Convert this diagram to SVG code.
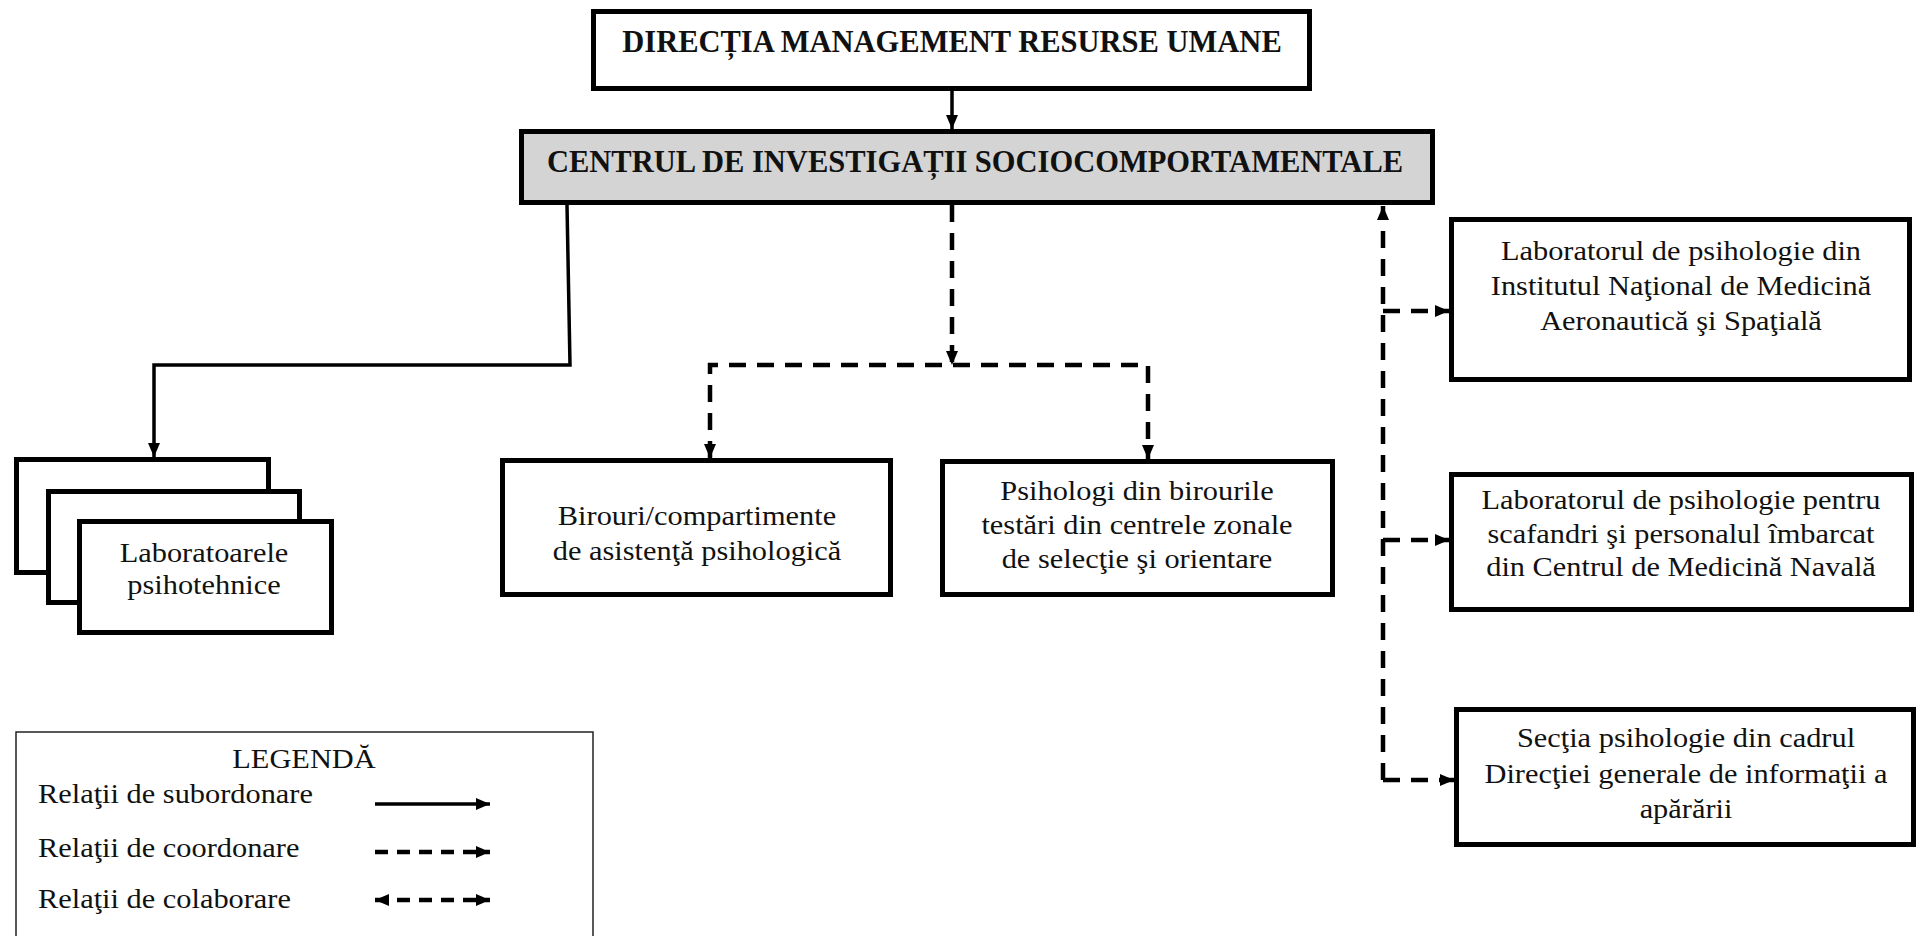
<svg xmlns="http://www.w3.org/2000/svg" width="1919" height="936" viewBox="0 0 1919 936">
<style>
.box{fill:#fff;stroke:#000;stroke-width:5}
.gray{fill:#d4d4d4;stroke:#000;stroke-width:5}
.t{font-family:"Liberation Serif","Times New Roman",serif;font-size:28px;fill:#111}
.tb{font-family:"Liberation Serif","Times New Roman",serif;font-size:30.5px;font-weight:bold;fill:#111}
.solid{fill:none;stroke:#000;stroke-width:3.5}
.dash{fill:none;stroke:#000;stroke-width:4.5;stroke-dasharray:17 11}
.ldash{fill:none;stroke:#000;stroke-width:4.5;stroke-dasharray:13 9}
.legbox{fill:#fff;stroke:#222;stroke-width:1.5}
</style>
<defs>
<marker id="ah" viewBox="0 0 14 12" refX="14" refY="6" markerWidth="14" markerHeight="12" markerUnits="userSpaceOnUse" orient="auto-start-reverse">
<path d="M0,0 L14,6 L0,12 z" fill="#000"/>
</marker>
</defs>
<rect x="0" y="0" width="1919" height="936" fill="#fff"/>

<g id="node-dmru">
<rect class="box" x="593.5" y="11.5" width="716" height="77"/>
<text class="tb" x="952" y="52" text-anchor="middle">DIRECȚIA MANAGEMENT RESURSE UMANE</text>
</g>

<g id="node-cisc">
<rect class="gray" x="521.5" y="131.5" width="911" height="71"/>
<text class="tb" x="975" y="172" text-anchor="middle">CENTRUL DE INVESTIGAȚII SOCIOCOMPORTAMENTALE</text>
</g>

<g id="node-laboratoare">
<rect class="box" x="16.5" y="459.5" width="252" height="113"/>
<rect class="box" x="48.5" y="491.5" width="251" height="111"/>
<rect class="box" x="79.5" y="521.5" width="252" height="111"/>
<text class="t" text-anchor="middle" transform="translate(204 562) scale(1.085 1)"><tspan x="0" y="0">Laboratoarele</tspan><tspan x="0" y="32">psihotehnice</tspan></text>
</g>

<g id="node-birouri">
<rect class="box" x="502.5" y="460.5" width="388" height="134"/>
<text class="t" text-anchor="middle" transform="translate(697 525) scale(1.085 1)"><tspan x="0" y="0">Birouri/compartimente</tspan><tspan x="0" y="35">de asistenţă psihologică</tspan></text>
</g>

<g id="node-psihologi">
<rect class="box" x="942.5" y="461.5" width="390" height="133"/>
<text class="t" text-anchor="middle" transform="translate(1137 500) scale(1.085 1)"><tspan x="0" y="0">Psihologi din birourile</tspan><tspan x="0" y="34">testări din centrele zonale</tspan><tspan x="0" y="68">de selecţie şi orientare</tspan></text>
</g>

<g id="node-inmas">
<rect class="box" x="1451.5" y="219.5" width="458" height="160"/>
<text class="t" text-anchor="middle" transform="translate(1681 260) scale(1.085 1)"><tspan x="0" y="0">Laboratorul de psihologie din</tspan><tspan x="0" y="35">Institutul Naţional de Medicină</tspan><tspan x="0" y="70">Aeronautică şi Spaţială</tspan></text>
</g>

<g id="node-naval">
<rect class="box" x="1451.5" y="474.5" width="460" height="135"/>
<text class="t" text-anchor="middle" transform="translate(1681 509) scale(1.085 1)"><tspan x="0" y="0">Laboratorul de psihologie pentru</tspan><tspan x="0" y="34">scafandri şi personalul îmbarcat</tspan><tspan x="0" y="67">din Centrul de Medicină Navală</tspan></text>
</g>

<g id="node-dgia">
<rect class="box" x="1456.5" y="709.5" width="457" height="135"/>
<text class="t" text-anchor="middle" transform="translate(1686 747) scale(1.085 1)"><tspan x="0" y="0">Secţia psihologie din cadrul</tspan><tspan x="0" y="36">Direcţiei generale de informaţii a</tspan><tspan x="0" y="71">apărării</tspan></text>
</g>

<g id="connectors">
<path class="solid" d="M952,91 L952,129" marker-end="url(#ah)"/>
<path class="solid" d="M567,205 L570,365 L154,365 L154,457" marker-end="url(#ah)"/>
<path class="dash" d="M952,205 L952,365" marker-end="url(#ah)"/>
<path class="dash" d="M710,458 L710,365 L1148,365 L1148,459" marker-start="url(#ah)" marker-end="url(#ah)"/>
<path class="dash" d="M1383,780 L1383,206" marker-end="url(#ah)"/>
<path class="dash" d="M1383,311 L1449,311" marker-end="url(#ah)"/>
<path class="dash" d="M1383,540 L1449,540" marker-end="url(#ah)"/>
<path class="dash" d="M1383,780 L1454,780" marker-end="url(#ah)"/>
</g>

<g id="legend">
<rect class="legbox" x="16" y="732" width="577" height="220"/>
<text class="t" text-anchor="middle" transform="translate(304 768) scale(1.085 1)">LEGENDĂ</text>
<text class="t" transform="translate(38 803) scale(1.085 1)">Relaţii de subordonare</text>
<text class="t" transform="translate(38 857) scale(1.085 1)">Relaţii de coordonare</text>
<text class="t" transform="translate(38 908) scale(1.085 1)">Relaţii de colaborare</text>
<path class="solid" d="M375,804 L490,804" marker-end="url(#ah)"/>
<path class="ldash" d="M375,852 L490,852" marker-end="url(#ah)"/>
<path class="ldash" d="M375,900 L490,900" marker-start="url(#ah)" marker-end="url(#ah)"/>
</g>
</svg>
